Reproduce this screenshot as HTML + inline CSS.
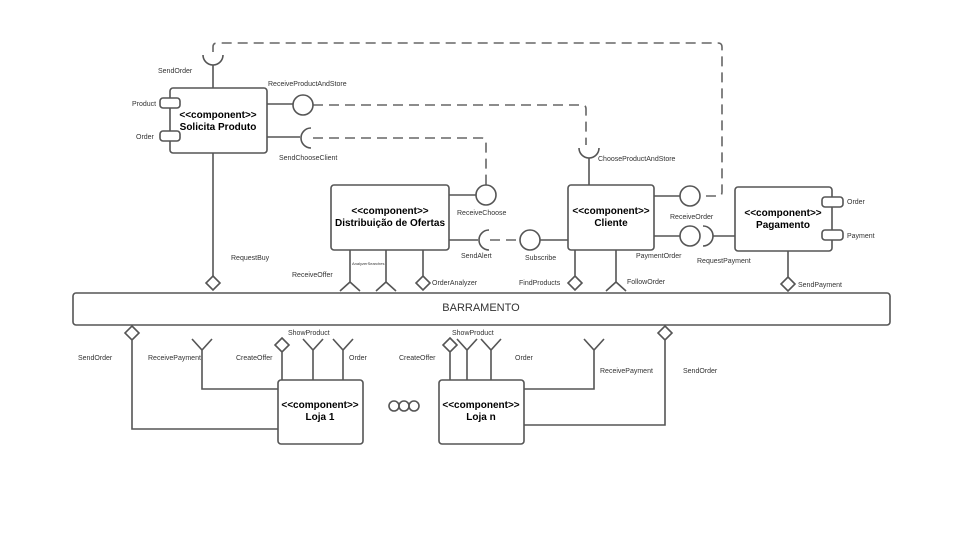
<!DOCTYPE html>
<html><head><meta charset="utf-8"><style>
body{margin:0;background:#fff}
svg{display:block}
text{font-family:"Liberation Sans",sans-serif;fill:#333}
.l{font-size:7px}
.b{font-size:10px;font-weight:bold;fill:#000}
</style></head><body>
<svg width="960" height="540" viewBox="0 0 960 540" xmlns="http://www.w3.org/2000/svg">
<g fill="none" stroke="#555" stroke-width="1.6">
<g stroke-dasharray="10,6" stroke="#666">
<path d="M213,52 V47 Q213,43 217,43 H718 Q722,43 722,47 V192 Q722,196 718,196 H700"/>
<path d="M313,105 H582 Q586,105 586,109 V145"/>
<path d="M313,138 H482 Q486,138 486,142 V185"/>
<path d="M490,240 H520"/>
</g>
<rect x="170" y="88" width="97" height="65" rx="3" fill="#fff"/>
<rect x="160" y="98" width="20" height="10" rx="3" fill="#fff"/>
<rect x="160" y="131" width="20" height="10" rx="3" fill="#fff"/>
<path d="M213,88 V65"/>
<path d="M203,55 A10,10 0 0 0 223,55"/>
<path d="M213,153 V276"/>
<path d="M213,276 L220,283 L213,290 L206,283 Z"/>
<path d="M267,104 H293"/>
<circle cx="303" cy="105" r="10"/>
<path d="M267,137 H300"/>
<path d="M311,128 A10,10 0 0 0 311,148"/>
<rect x="331" y="185" width="118" height="65" rx="3" fill="#fff"/>
<path d="M449,195 H476"/>
<circle cx="486" cy="195" r="10"/>
<path d="M449,240 H478"/>
<path d="M489,230 A10,10 0 0 0 489,250"/>
<circle cx="530" cy="240" r="10"/>
<path d="M540,240 H568"/>
<path d="M350,250 V282 M340,291 L350,282 L360,291"/>
<path d="M386,250 V282 M376,291 L386,282 L396,291"/>
<path d="M423,250 V276 M423,276 L430,283 L423,290 L416,283 Z"/>
<rect x="568" y="185" width="86" height="65" rx="3" fill="#fff"/>
<path d="M589,185 V158"/>
<path d="M579,148 A10,10 0 0 0 599,148"/>
<path d="M654,196 H680"/>
<circle cx="690" cy="196" r="10"/>
<path d="M654,236 H680"/>
<circle cx="690" cy="236" r="10"/>
<path d="M703,226 A10,10 0 0 1 703,246"/>
<path d="M713,236 H735"/>
<path d="M575,250 V276 M575,276 L582,283 L575,290 L568,283 Z"/>
<path d="M616,250 V282 M606,291 L616,282 L626,291"/>
<rect x="735" y="187" width="97" height="64" rx="3" fill="#fff"/>
<rect x="822" y="197" width="21" height="10" rx="3" fill="#fff"/>
<rect x="822" y="230" width="21" height="10" rx="3" fill="#fff"/>
<path d="M788,251 V277 M788,277 L795,284 L788,291 L781,284 Z"/>
<rect x="73" y="293" width="817" height="32" rx="3" fill="#fff"/>
<path d="M132,326 L139,333 L132,340 L125,333 Z M132,340 V429 H278"/>
<path d="M192,339 L202,350 L212,339 M202,350 V389 H278"/>
<path d="M282,338 L289,345 L282,352 L275,345 Z M282,352 V380"/>
<path d="M303,339 L313,350 L323,339 M313,350 V380"/>
<path d="M333,339 L343,350 L353,339 M343,350 V380"/>
<rect x="278" y="380" width="85" height="64" rx="3" fill="#fff"/>
<path d="M450,338 L457,345 L450,352 L443,345 Z M450,352 V380"/>
<path d="M457,339 L467,350 L477,339 M467,350 V380"/>
<path d="M481,339 L491,350 L501,339 M491,350 V380"/>
<path d="M584,339 L594,350 L604,339 M594,350 V389 H524"/>
<path d="M665,326 L672,333 L665,340 L658,333 Z M665,340 V425 H524"/>
<rect x="439" y="380" width="85" height="64" rx="3" fill="#fff"/>
<circle cx="394" cy="406" r="5"/><circle cx="404" cy="406" r="5"/><circle cx="414" cy="406" r="5"/>
</g>
<text class="b" x="218" y="118" text-anchor="middle">&lt;&lt;component&gt;&gt;</text>
<text class="b" x="218" y="130" text-anchor="middle">Solicita Produto</text>
<text class="b" x="390" y="214" text-anchor="middle">&lt;&lt;component&gt;&gt;</text>
<text class="b" x="390" y="226" text-anchor="middle">Distribuição de Ofertas</text>
<text class="b" x="611" y="214" text-anchor="middle">&lt;&lt;component&gt;&gt;</text>
<text class="b" x="611" y="226" text-anchor="middle">Cliente</text>
<text class="b" x="783" y="216" text-anchor="middle">&lt;&lt;component&gt;&gt;</text>
<text class="b" x="783" y="228" text-anchor="middle">Pagamento</text>
<text class="b" x="320" y="408" text-anchor="middle">&lt;&lt;component&gt;&gt;</text>
<text class="b" x="320" y="420" text-anchor="middle">Loja 1</text>
<text class="b" x="481" y="408" text-anchor="middle">&lt;&lt;component&gt;&gt;</text>
<text class="b" x="481" y="420" text-anchor="middle">Loja n</text>
<text x="481" y="311" text-anchor="middle" style="font-size:11px">BARRAMENTO</text>
<text class="l" x="158" y="73">SendOrder</text>
<text class="l" x="268" y="86">ReceiveProductAndStore</text>
<text class="l" x="132" y="106">Product</text>
<text class="l" x="136" y="139">Order</text>
<text class="l" x="279" y="160">SendChooseClient</text>
<text class="l" x="231" y="260">RequestBuy</text>
<text class="l" x="457" y="215">ReceiveChoose</text>
<text class="l" x="461" y="258">SendAlert</text>
<text class="l" x="525" y="260">Subscribe</text>
<text class="l" x="292" y="277">ReceiveOffer</text>
<text x="352" y="265" style="font-size:4px">AnalyzerSearches</text>
<text class="l" x="432" y="285">OrderAnalyzer</text>
<text class="l" x="519" y="285">FindProducts</text>
<text class="l" x="627" y="284">FollowOrder</text>
<text class="l" x="598" y="161">ChooseProductAndStore</text>
<text class="l" x="670" y="219">ReceiveOrder</text>
<text class="l" x="636" y="258">PaymentOrder</text>
<text class="l" x="697" y="263">RequestPayment</text>
<text class="l" x="847" y="204">Order</text>
<text class="l" x="847" y="238">Payment</text>
<text class="l" x="798" y="287">SendPayment</text>
<text class="l" x="78" y="360">SendOrder</text>
<text class="l" x="148" y="360">ReceivePayment</text>
<text class="l" x="236" y="360">CreateOffer</text>
<text class="l" x="288" y="335">ShowProduct</text>
<text class="l" x="349" y="360">Order</text>
<text class="l" x="399" y="360">CreateOffer</text>
<text class="l" x="452" y="335">ShowProduct</text>
<text class="l" x="515" y="360">Order</text>
<text class="l" x="600" y="373">ReceivePayment</text>
<text class="l" x="683" y="373">SendOrder</text>
</svg>
</body></html>
